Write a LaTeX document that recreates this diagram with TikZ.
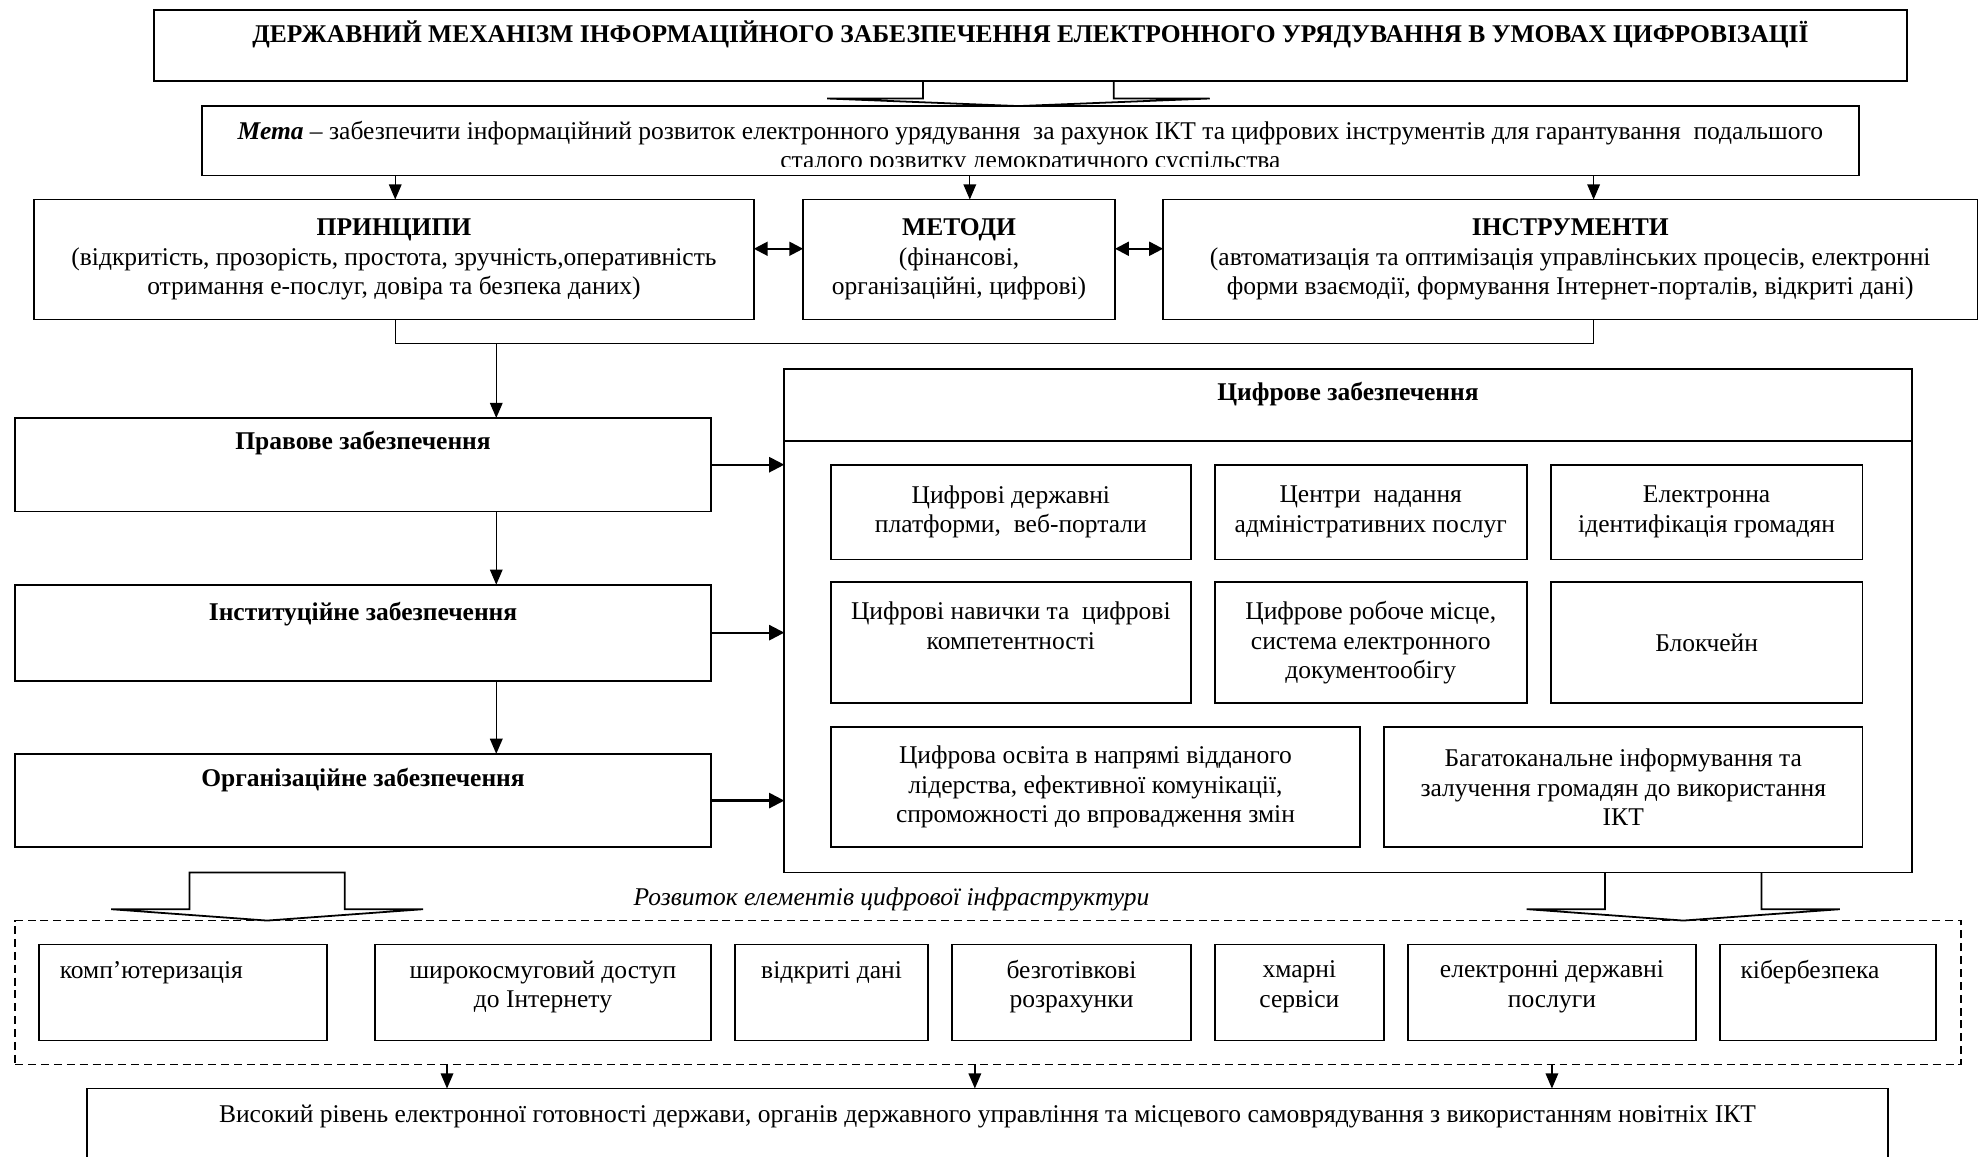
\documentclass[tikz,border=0pt]{standalone}
\usepackage{fontspec}
\setmainfont{Liberation Serif}
\usetikzlibrary{arrows.meta}
\newcommand{\diagfont}{\fontsize{11.5pt}{13.3pt}\selectfont}

\begin{document}
\begin{tikzpicture}[x=0.02cm,y=-0.02cm,
    box/.style={draw,line width=0.8pt,inner sep=0pt,outer sep=0pt,align=center,font=\diagfont},
    dashbox/.style={box,line width=0.8pt,dash pattern=on 3.6pt off 2.2pt},
    txt/.style={inner sep=0pt,align=center,font=\diagfont},
    head/.style={txt,font=\diagfont\bfseries},
    conn/.style={line width=0.6pt,-{Triangle[length=0.24cm,width=0.2cm]}},
    harrow/.style={line width=1pt,-{Triangle[length=0.24cm,width=0.24cm]}},
    dblarrow/.style={line width=1pt,{Triangle[length=0.22cm,width=0.22cm]}-{Triangle[length=0.22cm,width=0.22cm]}},
    block/.style={line width=0.8pt,line join=miter}]
  \useasboundingbox (0,0) rectangle (1568,916);

  % Drawing title box
  \node[box,minimum width=27.76cm,minimum height=1.12cm] (title) at (816,36) {};
  \node[head] (t-title) at (816,27) {ДЕРЖАВНИЙ МЕХАНІЗМ ІНФОРМАЦІЙНОГО ЗАБЕЗПЕЧЕННЯ ЕЛЕКТРОННОГО УРЯДУВАННЯ В УМОВАХ ЦИФРОВІЗАЦІЇ};

  % Drawing goal box (text cut at the bottom)
  \node[box,minimum width=26.24cm,minimum height=1.10cm] (meta) at (816,111.5) {};
  \begin{scope}
    \clip (161,85) rectangle (1471,132);
    \node[txt] (t-meta) at (816,117) {\textbf{\textit{Мета}} – забезпечити інформаційний розвиток електронного урядування~ за рахунок ІКТ та цифрових інструментів для гарантування~ подальшого\\сталого розвитку демократичного суспільства};
  \end{scope}

  % Block arrow title -> goal
  \coordinate (b1) at (806.5,0);
  \draw[block] (title.south -| b1) ++(-75.5,0) -- ++(0,14) -- ++(-76,0) -- (meta.north -| b1) -- ++(151.5,-6) -- ++(-76,0) -- ++(0,-14);

  % Drawing principles, methods, instruments
  \node[box,minimum width=11.4cm,minimum height=1.9cm] (princ) at (312,205.5) {\textbf{ПРИНЦИПИ}\\(відкритість, прозорість, простота, зручність,оперативність\\отримання е-послуг, довіра та безпека даних)};
  \node[box,minimum width=4.94cm,minimum height=1.9cm] (metody) at (759.5,205.5) {\textbf{МЕТОДИ}\\(фінансові,\\організаційні, цифрові)};
  \node[box,minimum width=12.9cm,minimum height=1.9cm] (instr) at (1243.5,205.5) {\textbf{ІНСТРУМЕНТИ}\\(автоматизація та оптимізація управлінських процесів, електронні\\форми взаємодії, формування Інтернет-порталів, відкриті дані)};

  \coordinate (a1) at (313,0);
  \coordinate (a2) at (768,0);
  \coordinate (a3) at (1262,0);
  \draw[conn] (meta.south -| a1) -- (princ.north -| a1);
  \draw[conn] (meta.south -| a2) -- (metody.north -| a2);
  \draw[conn] (meta.south -| a3) -- (instr.north -| a3);

  \coordinate (r1) at (0,197);
  \draw[dblarrow] (princ.east |- r1) -- (metody.west |- r1);
  \draw[dblarrow] (metody.east |- r1) -- (instr.west |- r1);

  % Joining line under the row
  \coordinate (j1) at (1262,272);
  \coordinate (j2) at (393,272);
  \draw[line width=0.6pt] (princ.south -| a1) |- (j1) -- (instr.south -| j1);

  % Drawing left column
  \node[box,minimum width=11.02cm,minimum height=1.48cm] (pravo) at (287.5,368) {};
  \node[head] (t-pravo) at (287.5,351) {Правове забезпечення};
  \node[box,minimum width=11.02cm,minimum height=1.52cm] (inst) at (287.5,501) {};
  \node[head] (t-inst) at (287.5,486) {Інституційне забезпечення};
  \node[box,minimum width=11.02cm,minimum height=1.48cm] (org) at (287.5,634) {};
  \node[head] (t-org) at (287.5,618) {Організаційне забезпечення};

  \draw[conn] (j2) -- (pravo.north -| j2);
  \draw[conn] (pravo.south -| j2) -- (inst.north -| j2);
  \draw[conn] (inst.south -| j2) -- (org.north -| j2);

  % Drawing digital support box
  \node[box,minimum width=17.86cm,minimum height=7.98cm] (cyfr) at (1067.5,491.5) {};
  \coordinate (dv) at (0,349);
  \draw[line width=0.8pt] (cyfr.west |- dv) -- (cyfr.east |- dv);
  \node[head] (t-cyfr) at (1067.5,312) {Цифрове забезпечення};

  \draw[harrow] (pravo.east) -- (pravo.east -| cyfr.west);
  \draw[harrow] (inst.east) -- (inst.east -| cyfr.west);
  \draw[harrow] (org.east) -- (org.east -| cyfr.west);

  % Inner boxes
  \node[box,minimum width=5.7cm,minimum height=1.5cm] (c11) at (800.5,405.5) {Цифрові державні\\платформи,~ веб-портали};
  \node[box,minimum width=4.94cm,minimum height=1.5cm] (c12) at (1085.5,405.5) {Центри~ надання\\адміністративних послуг};
  \node[box,minimum width=4.94cm,minimum height=1.5cm] (c13) at (1351.5,405.5) {Електронна\\ідентифікація громадян};
  \node[box,minimum width=5.7cm,minimum height=1.92cm] (c21) at (800.5,509) {};
  \node[txt] (t-c21) at (800.5,495.5) {Цифрові навички та~ цифрові\\компетентності};
  \node[box,minimum width=4.94cm,minimum height=1.92cm] (c22) at (1085.5,509) {Цифрове робоче місце,\\система електронного\\документообігу};
  \node[box,minimum width=4.94cm,minimum height=1.92cm] (c23) at (1351.5,509) {Блокчейн};
  \node[box,minimum width=8.38cm,minimum height=1.9cm] (d1) at (867.5,623.5) {Цифрова освіта в напрямі відданого\\лідерства, ефективної комунікації,\\спроможності до впровадження змін};
  \node[box,minimum width=7.58cm,minimum height=1.9cm] (d2) at (1285.5,623.5) {Багатоканальне інформування та\\залучення громадян до використання\\ІКТ};

  % Drawing infrastructure box
  \node[dashbox,minimum width=30.82cm,minimum height=2.28cm] (dash) at (782.5,786) {};
  \node[txt,font=\diagfont\itshape] (t-infra) at (706,712) {Розвиток елементів цифрової інфраструктури};

  % Block arrows into the infrastructure box
  \coordinate (b2) at (211.5,0);
  \draw[block] (dash.north -| b2) -- ++(-123.5,-9) -- ++(62,0) -- ++(0,-29) -- ++(123,0) -- ++(0,29) -- ++(62,0) -- cycle;
  \coordinate (b3) at (1333,0);
  \draw[block] (cyfr.south -| b3) ++(-62,0) -- ++(0,29) -- ++(-62,0) -- (dash.north -| b3) -- ++(124,-9) -- ++(-62,0) -- ++(0,-29);

  \node[box,minimum width=4.56cm,minimum height=1.52cm] (e1) at (145,786) {};
  \node[txt,anchor=west] (t-e1) at (47,770) {комп’ютеризація};
  \node[box,minimum width=5.32cm,minimum height=1.52cm] (e2) at (430,786) {};
  \node[txt] (t-e2) at (430,781.5) {широкосмуговий доступ\\до Інтернету};
  \node[box,minimum width=3.06cm,minimum height=1.52cm] (e3) at (658.5,786) {};
  \node[txt] (t-e3) at (658.5,770) {відкриті дані};
  \node[box,minimum width=3.78cm,minimum height=1.52cm] (e4) at (848.5,786) {};
  \node[txt] (t-e4) at (848.5,781.5) {безготівкові\\розрахунки};
  \node[box,minimum width=2.68cm,minimum height=1.52cm] (e5) at (1029,786) {};
  \node[txt] (t-e5) at (1029,781.5) {хмарні\\сервіси};
  \node[box,minimum width=4.56cm,minimum height=1.52cm] (e6) at (1229,786) {};
  \node[txt] (t-e6) at (1229,781.5) {електронні державні\\послуги};
  \node[box,minimum width=3.42cm,minimum height=1.52cm] (e7) at (1447.5,786) {};
  \node[txt,anchor=west] (t-e7) at (1378,770) {кібербезпека};

  % Drawing result box
  \node[box,minimum width=28.52cm,minimum height=1.96cm] (goal) at (782,911) {};
  \node[txt] (t-goal) at (782,884) {Високий рівень електронної готовності держави, органів державного управління та місцевого самоврядування з використанням новітніх ІКТ};

  \coordinate (f1) at (354,0);
  \coordinate (f2) at (772,0);
  \coordinate (f3) at (1229,0);
  \draw[conn] (dash.south -| f1) -- (goal.north -| f1);
  \draw[conn] (dash.south -| f2) -- (goal.north -| f2);
  \draw[conn] (dash.south -| f3) -- (goal.north -| f3);
\end{tikzpicture}
\end{document}
